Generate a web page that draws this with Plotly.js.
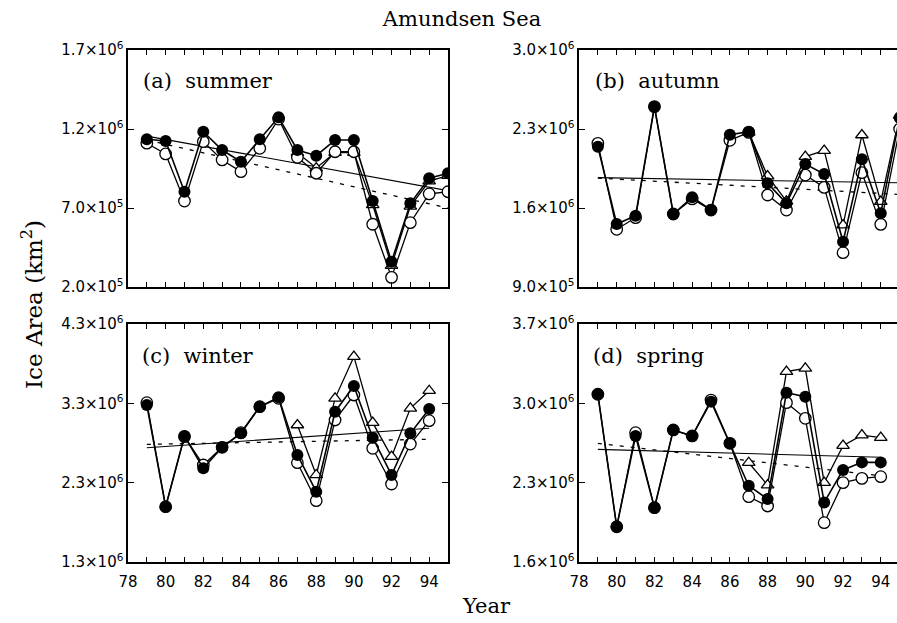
<!DOCTYPE html>
<html>
<head>
<meta charset="utf-8">
<script src="https://cdn.plot.ly/plotly-3.0.1.min.js"></script>
<style>html,body{margin:0;padding:0;background:#fff;}#chart{width:897px;height:623px;}</style>
</head>
<body>
<div id="chart"></div>
<script>
// ---- data (values in km^2) ----
const yearsA = [79,80,81,82,83,84,85,86,87,88,89,90,91,92,93,94,95];
const yearsTriA = [87,88,89,90,91,92,93,94,95];
const yearsC = [79,80,81,82,83,84,85,86,87,88,89,90,91,92,93,94];
const yearsTriC = [87,88,89,90,91,92,93,94];

const summerFilled = [1.135e6,1.124e6,0.803e6,1.183e6,1.067e6,0.993e6,1.135e6,1.274e6,1.067e6,1.031e6,1.130e6,1.130e6,0.744e6,0.360e6,0.730e6,0.888e6,0.920e6];
const summerOpen   = [1.110e6,1.042e6,0.744e6,1.120e6,1.004e6,0.930e6,1.078e6,1.263e6,1.021e6,0.920e6,1.056e6,1.056e6,0.597e6,0.261e6,0.607e6,0.789e6,0.803e6];
const summerTri    = [1.050e6,0.953e6,1.050e6,1.050e6,0.720e6,0.335e6,0.710e6,0.870e6,0.905e6];

const autumnFilled = [2.143e6,1.458e6,1.532e6,2.498e6,1.547e6,1.695e6,1.582e6,2.250e6,2.276e6,1.819e6,1.642e6,1.990e6,1.901e6,1.301e6,2.031e6,1.553e6,2.400e6];
const autumnOpen   = [2.173e6,1.411e6,1.514e6,2.498e6,1.547e6,1.680e6,1.582e6,2.200e6,2.270e6,1.715e6,1.582e6,1.892e6,1.783e6,1.204e6,1.913e6,1.455e6,2.300e6];
const autumnTri    = [2.270e6,1.883e6,1.660e6,2.055e6,2.108e6,1.449e6,2.247e6,1.656e6,2.420e6];

const winterFilled = [3.279e6,1.997e6,2.888e6,2.481e6,2.746e6,2.922e6,3.258e6,3.376e6,2.649e6,2.186e6,3.195e6,3.519e6,2.867e6,2.397e6,2.922e6,3.229e6];
const winterOpen   = [3.308e6,1.997e6,2.880e6,2.523e6,2.746e6,2.930e6,3.258e6,3.363e6,2.552e6,2.073e6,3.090e6,3.405e6,2.733e6,2.283e6,2.787e6,3.081e6];
const winterTri    = [3.027e6,2.397e6,3.363e6,3.888e6,3.056e6,2.628e6,3.237e6,3.459e6];

const springFilled = [3.080e6,1.911e6,2.712e6,2.079e6,2.765e6,2.712e6,3.015e6,2.647e6,2.273e6,2.156e6,3.094e6,3.059e6,2.126e6,2.412e6,2.479e6,2.479e6];
const springOpen   = [3.080e6,1.911e6,2.741e6,2.079e6,2.765e6,2.712e6,3.029e6,2.647e6,2.176e6,2.094e6,3.006e6,2.868e6,1.947e6,2.300e6,2.338e6,2.353e6];
const springTri    = [2.476e6,2.279e6,3.280e6,3.309e6,2.300e6,2.627e6,2.720e6,2.697e6];

// trend lines (end points)
const trendYearsAB = [79,95];
const trendYearsCD = [79,94];
const summerTrendSolid = [1.155e6,0.810e6];
const summerTrendDash  = [1.130e6,0.700e6];
const autumnTrendSolid = [1.869e6,1.823e6];
const autumnTrendDash  = [1.865e6,1.720e6];
const winterTrendSolid = [2.741e6,2.985e6];
const winterTrendDash  = [2.783e6,2.847e6];
const springTrendSolid = [2.594e6,2.524e6];
const springTrendDash  = [2.647e6,2.361e6];

// tick labels
const xTickYears = [78,80,82,84,86,88,90,92,94];
const xTickText = ['78','80','82','84','86','88','90','92','94'];
const summerTicks = [2.0e5,7.0e5,1.2e6,1.7e6];
const summerTickText = ['2.0×10<sup>5</sup>','7.0×10<sup>5</sup>','1.2×10<sup>6</sup>','1.7×10<sup>6</sup>'];
const autumnTicks = [9.0e5,1.6e6,2.3e6,3.0e6];
const autumnTickText = ['9.0×10<sup>5</sup>','1.6×10<sup>6</sup>','2.3×10<sup>6</sup>','3.0×10<sup>6</sup>'];
const winterTicks = [1.3e6,2.3e6,3.3e6,4.3e6];
const winterTickText = ['1.3×10<sup>6</sup>','2.3×10<sup>6</sup>','3.3×10<sup>6</sup>','4.3×10<sup>6</sup>'];
const springTicks = [1.6e6,2.3e6,3.0e6,3.7e6];
const springTickText = ['1.6×10<sup>6</sup>','2.3×10<sup>6</sup>','3.0×10<sup>6</sup>','3.7×10<sup>6</sup>'];

// ---- build traces ----
const W = 897, H = 623;
const lineW = 1.3;
function panelTraces(xa, ya, yrs, yrsTri, filled, open, tri, tYrs, tSolid, tDash) {
  return [
    {x: tYrs, y: tSolid, xaxis: xa, yaxis: ya, mode: 'lines', line: {color: '#000', width: 1.1}, hoverinfo: 'skip'},
    {x: tYrs, y: tDash, xaxis: xa, yaxis: ya, mode: 'lines', line: {color: '#000', width: 1.3, dash: '4px,7px'}, hoverinfo: 'skip'},
    {x: yrsTri, y: tri, xaxis: xa, yaxis: ya, mode: 'lines+markers', line: {color: '#000', width: lineW},
     marker: {symbol: 'triangle-up', size: 11, color: '#fff', line: {color: '#000', width: 1.3}}},
    {x: yrs, y: open, xaxis: xa, yaxis: ya, mode: 'lines+markers', line: {color: '#000', width: lineW},
     marker: {symbol: 'circle', size: 11.5, color: '#fff', line: {color: '#000', width: 1.3}}},
    {x: yrs, y: filled, xaxis: xa, yaxis: ya, mode: 'lines+markers', line: {color: '#000', width: lineW + 0.3},
     marker: {symbol: 'circle', size: 12, color: '#000', line: {color: '#000', width: 0}}}
  ];
}
const data = [].concat(
  panelTraces('x','y', yearsA, yearsTriA, summerFilled, summerOpen, summerTri, trendYearsAB, summerTrendSolid, summerTrendDash),
  panelTraces('x2','y2', yearsA, yearsTriA, autumnFilled, autumnOpen, autumnTri, trendYearsAB, autumnTrendSolid, autumnTrendDash),
  panelTraces('x3','y3', yearsC, yearsTriC, winterFilled, winterOpen, winterTri, trendYearsCD, winterTrendSolid, winterTrendDash),
  panelTraces('x4','y4', yearsC, yearsTriC, springFilled, springOpen, springTri, trendYearsCD, springTrendSolid, springTrendDash)
);

const tickFont = {family: 'DejaVu Sans', size: 15, color: '#000'};
function xAx(domain, range, anchor, labels) {
  const ax = {domain: domain, range: range, anchor: anchor, showgrid: false, zeroline: false,
    showline: true, linecolor: '#000', linewidth: 1.6, mirror: 'ticks',
    ticks: 'inside', ticklen: 5, tickwidth: 1, tickcolor: '#000',
    tickmode: 'array', tickvals: xTickYears, ticktext: xTickText,
    minor: {ticks: 'inside', tickmode: 'linear', tick0: 78, dtick: 1, ticklen: 5, tickwidth: 1, tickcolor: '#000', showgrid: false},
    showticklabels: labels, ticklabelstandoff: 5,
    tickfont: {family: 'DejaVu Sans', size: 15, color: '#000'}};
  return ax;
}
function yAx(domain, range, anchor, tv, tt, mirror) {
  return {domain: domain, range: range, anchor: anchor, showgrid: false, zeroline: false,
    showline: true, linecolor: '#000', linewidth: 1.6, mirror: mirror,
    ticks: 'inside', ticklen: 6, tickwidth: 1, tickcolor: '#000',
    tickmode: 'array', tickvals: tv, ticktext: tt, tickfont: tickFont};
}
const leftX = [128/W, 448/W];
const rightX = [579/W, 1];
const topY = [1 - 287/H, 1 - 50/H];
const botY = [1 - 562/H, 1 - 324/H];
const leftRange = [78, 95];
const rightRange = [78, 78 + 318/18.86];

const serif = 'DejaVu Serif';
const layout = {
  width: W, height: H,
  margin: {l: 0, r: 0, t: 0, b: 0},
  paper_bgcolor: '#fff', plot_bgcolor: '#fff',
  showlegend: false,
  title: {text: 'Amundsen Sea', x: 462/W, y: 1 - 19/H, xanchor: 'center', yanchor: 'middle',
          font: {family: serif, size: 21, color: '#000'}},
  xaxis:  xAx(leftX, leftRange, 'y', false),
  yaxis:  yAx(topY, [2.0e5, 1.7e6], 'x', summerTicks, summerTickText, 'ticks'),
  xaxis2: xAx(rightX, rightRange, 'y2', false),
  yaxis2: yAx(topY, [9.0e5, 3.0e6], 'x2', autumnTicks, autumnTickText, false),
  xaxis3: xAx(leftX, leftRange, 'y3', true),
  yaxis3: yAx(botY, [1.3e6, 4.3e6], 'x3', winterTicks, winterTickText, 'ticks'),
  xaxis4: xAx(rightX, rightRange, 'y4', true),
  yaxis4: yAx(botY, [1.6e6, 3.7e6], 'x4', springTicks, springTickText, false),
  annotations: [
    {text: '(a)  summer', xref: 'paper', yref: 'paper', x: 141/W, y: 1 - 81/H, xanchor: 'left', yanchor: 'middle', showarrow: false,
     font: {family: serif, size: 21, color: '#000'}},
    {text: '(b)  autumn', xref: 'paper', yref: 'paper', x: 593/W, y: 1 - 81/H, xanchor: 'left', yanchor: 'middle', showarrow: false,
     font: {family: serif, size: 21, color: '#000'}},
    {text: '(c)  winter', xref: 'paper', yref: 'paper', x: 140/W, y: 1 - 356/H, xanchor: 'left', yanchor: 'middle', showarrow: false,
     font: {family: serif, size: 21, color: '#000'}},
    {text: '(d)  spring', xref: 'paper', yref: 'paper', x: 591/W, y: 1 - 356/H, xanchor: 'left', yanchor: 'middle', showarrow: false,
     font: {family: serif, size: 21, color: '#000'}},
    {text: 'Ice Area (km<sup>2</sup>)', xref: 'paper', yref: 'paper', x: 32/W, y: 1 - 305/H, xanchor: 'center', yanchor: 'middle',
     textangle: -90, showarrow: false, font: {family: serif, size: 23, color: '#000'}},
    {text: 'Year', xref: 'paper', yref: 'paper', x: 486/W, y: 1 - 606/H, xanchor: 'center', yanchor: 'middle', showarrow: false,
     font: {family: serif, size: 21, color: '#000'}}
  ]
};

Plotly.newPlot('chart', data, layout, {displayModeBar: false, staticPlot: true});
</script>
</body>
</html>
